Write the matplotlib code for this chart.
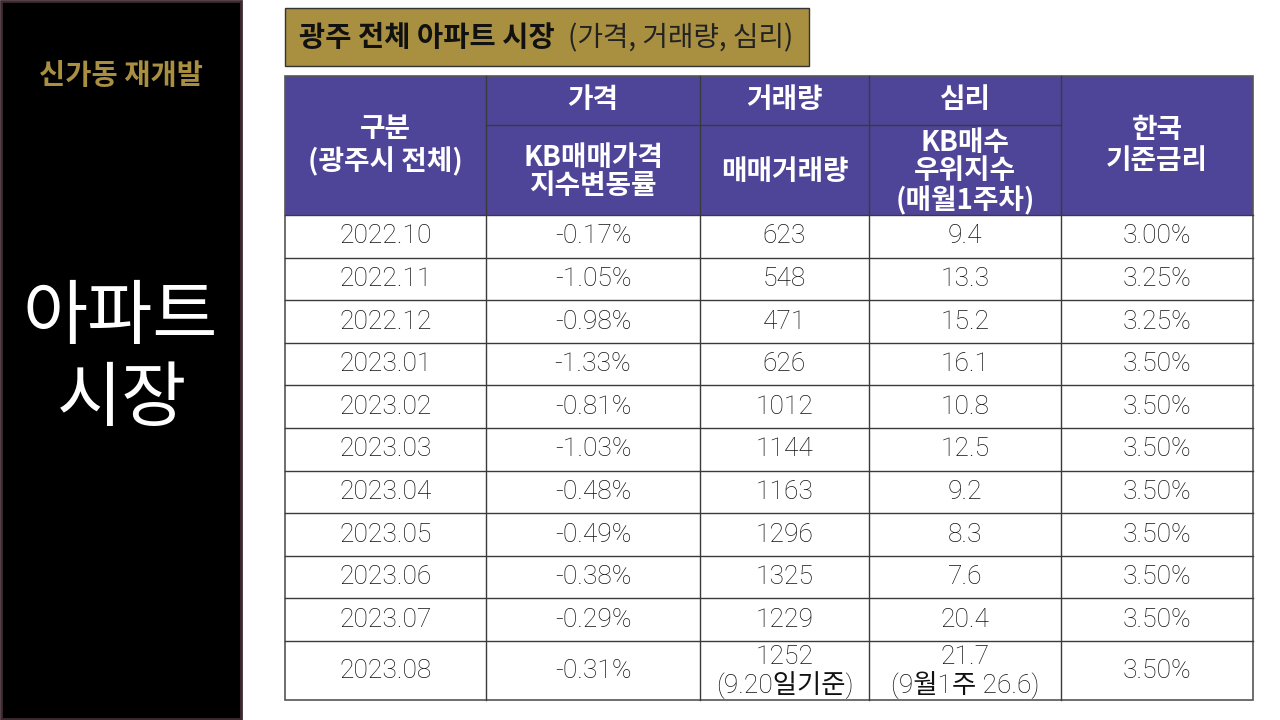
"""Gwangju apartment market table slide - price, volume, sentiment, base rate."""

import matplotlib
matplotlib.use("Agg")
import matplotlib.pyplot as plt
from matplotlib.patches import Rectangle

plt.rcParams["font.family"] = ["Noto Sans CJK KR", "DejaVu Sans"]
LIGHT_FAMILY = ["Roboto", "Noto Sans CJK KR", "DejaVu Sans"]

# Table data
months = ["2022.10", "2022.11", "2022.12", "2023.01", "2023.02", "2023.03",
          "2023.04", "2023.05", "2023.06", "2023.07", "2023.08"]
price_change = [-0.17, -1.05, -0.98, -1.33, -0.81, -1.03, -0.48, -0.49, -0.38, -0.29, -0.31]
trade_volume = [623, 548, 471, 626, 1012, 1144, 1163, 1296, 1325, 1229, 1252]
buyer_index = [9.4, 13.3, 15.2, 16.1, 10.8, 12.5, 9.2, 8.3, 7.6, 20.4, 21.7]
base_rate = [3.00, 3.25, 3.25, 3.50, 3.50, 3.50, 3.50, 3.50, 3.50, 3.50, 3.50]
volume_note = "(9.20일기준)"
index_note = "(9월1주 26.6)"

group_labels = ["가격", "거래량", "심리"]
sub_labels = ["KB매매가격\n지수변동률", "매매거래량", "KB매수\n우위지수\n(매월1주차)"]
first_col_label = "구분\n(광주시 전체)"
last_col_label = "한국\n기준금리"

# Colours
PURPLE = "#4e4599"
GOLD = "#a98f40"
LINE = "#3a3a3a"

fig = plt.figure(figsize=(12.8, 7.2), dpi=100, facecolor="white")
ax = fig.add_axes([0, 0, 1, 1])
ax.set_xlim(0, 1280)
ax.set_ylim(720, 0)
ax.axis("off")

# Left black panel
ax.add_patch(Rectangle((1, 1), 240, 718, facecolor="black", edgecolor="#3d2a31", linewidth=2))
ax.text(121, 76, "신가동 재개발", color=GOLD, fontsize=20.5, fontweight="bold", ha="center", va="center")
ax.text(120, 318, "아파트", color="white", fontsize=51, fontweight="light", ha="center", va="center")
ax.text(122, 400, "시장", color="white", fontsize=51, fontweight="light", ha="center", va="center")

# Title box
ax.add_patch(Rectangle((285, 8), 524, 58, facecolor=GOLD, edgecolor="#333333", linewidth=1))
ax.text(299, 38, "광주 전체 아파트 시장", fontsize=20.5, fontweight="bold", color="#111111",
        ha="left", va="center")
ax.text(793, 38, "(가격, 거래량, 심리)", fontsize=20, color="#222222", ha="right", va="center")

# Table geometry
col_x = [285, 486, 700, 869, 1061, 1253]
head_top, head_mid, head_bot = 76, 125, 215
row_h = [42.6] * 10 + [59]
row_y = [head_bot]
for h in row_h:
    row_y.append(row_y[-1] + h)

# Header background
ax.add_patch(Rectangle((col_x[0], head_top), col_x[-1] - col_x[0], head_bot - head_top,
                       facecolor=PURPLE, edgecolor="none"))

hfont = dict(color="white", fontsize=20, fontweight="bold", ha="center", va="center")
ax.text((col_x[0] + col_x[1]) / 2, (head_top + head_bot) / 2, first_col_label,
        linespacing=1.15, **hfont)
ax.text((col_x[4] + col_x[5]) / 2, (head_top + head_bot) / 2, last_col_label,
        linespacing=1.15, **hfont)
for i in range(3):
    cx = (col_x[i + 1] + col_x[i + 2]) / 2
    ax.text(cx, (head_top + head_mid) / 2, group_labels[i], linespacing=1.0, **hfont)
    ax.text(cx, (head_mid + head_bot) / 2 + 2, sub_labels[i], linespacing=1.02, **hfont)

# Body cells - thin digits like the original slide
bfont = dict(color="#111111", fontsize=19, fontweight="light", family=LIGHT_FAMILY,
             ha="center", va="center")
for r, m in enumerate(months):
    cy = (row_y[r] + row_y[r + 1]) / 2
    cells = [m, f"{price_change[r]:.2f}%", f"{trade_volume[r]}", f"{buyer_index[r]:.1f}",
             f"{base_rate[r]:.2f}%"]
    for c, txt in enumerate(cells):
        cx = (col_x[c] + col_x[c + 1]) / 2
        if r == len(months) - 1 and c in (2, 3):
            note = volume_note if c == 2 else index_note
            ax.text(cx, cy - 14, txt, **bfont)
            ax.text(cx, cy + 15, note, **bfont)
        else:
            ax.text(cx, cy, txt, **bfont)

# Grid lines
for y in row_y[:-1]:
    ax.plot([col_x[0], col_x[-1]], [y, y], color=LINE, linewidth=1)
ax.plot([col_x[1], col_x[4]], [head_mid, head_mid], color=LINE, linewidth=1)
for x in col_x[1:-1]:
    ax.plot([x, x], [head_top, row_y[-1]], color=LINE, linewidth=1)
ax.add_patch(Rectangle((col_x[0], head_top), col_x[-1] - col_x[0], row_y[-1] - head_top,
                       facecolor="none", edgecolor="#555555", linewidth=1.2))

fig.savefig("out.png", dpi=100, facecolor="white")
